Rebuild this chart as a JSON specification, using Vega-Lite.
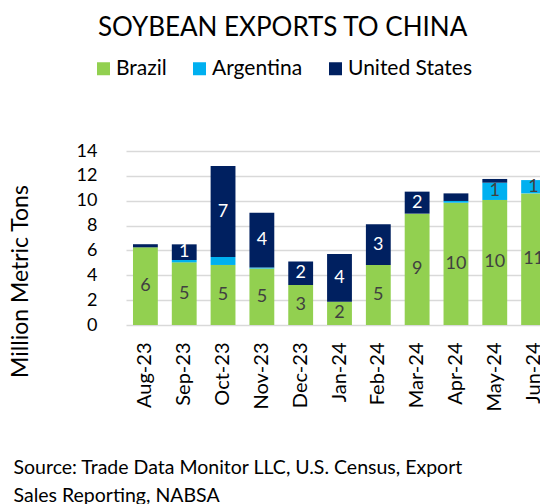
{
  "$schema": "https://vega.github.io/schema/vega-lite/v6.json",
  "width": 414,
  "height": 174,
  "autosize": {"type": "none"},
  "padding": {"left": 126, "top": 151, "right": 0, "bottom": 179},
  "background": "white",
  "config": {
    "font": "Lato",
    "view": {"stroke": null},
    "axisY": {
      "values": [0, 2, 4, 6, 8, 10, 12, 14],
      "labelOverlap": false,
      "labelFontSize": 18,
      "labelColor": "#000000",
      "labelPadding": 29,
      "ticks": false,
      "tickSize": 0,
      "domain": false,
      "grid": true,
      "gridColor": "#d9d9d9",
      "gridWidth": 1.5
    }
  },
  "title": {
    "text": "SOYBEAN EXPORTS TO CHINA",
    "fontSize": 26,
    "fontWeight": "normal",
    "color": "#000000",
    "anchor": "start",
    "frame": "group",
    "dx": -28,
    "offset": 17
  },
  "data": {
    "values": [
      {"month": "Aug-23", "country": "Brazil", "value": 6.25},
      {"month": "Aug-23", "country": "Argentina", "value": 0.0},
      {"month": "Aug-23", "country": "United States", "value": 0.25},
      {"month": "Sep-23", "country": "Brazil", "value": 5.04},
      {"month": "Sep-23", "country": "Argentina", "value": 0.19},
      {"month": "Sep-23", "country": "United States", "value": 1.26},
      {"month": "Oct-23", "country": "Brazil", "value": 4.83},
      {"month": "Oct-23", "country": "Argentina", "value": 0.64},
      {"month": "Oct-23", "country": "United States", "value": 7.32},
      {"month": "Nov-23", "country": "Brazil", "value": 4.55},
      {"month": "Nov-23", "country": "Argentina", "value": 0.08},
      {"month": "Nov-23", "country": "United States", "value": 4.41},
      {"month": "Dec-23", "country": "Brazil", "value": 3.22},
      {"month": "Dec-23", "country": "Argentina", "value": 0.0},
      {"month": "Dec-23", "country": "United States", "value": 1.88},
      {"month": "Jan-24", "country": "Brazil", "value": 1.88},
      {"month": "Jan-24", "country": "Argentina", "value": 0.0},
      {"month": "Jan-24", "country": "United States", "value": 3.83},
      {"month": "Feb-24", "country": "Brazil", "value": 4.83},
      {"month": "Feb-24", "country": "Argentina", "value": 0.0},
      {"month": "Feb-24", "country": "United States", "value": 3.27},
      {"month": "Mar-24", "country": "Brazil", "value": 8.96},
      {"month": "Mar-24", "country": "Argentina", "value": 0.0},
      {"month": "Mar-24", "country": "United States", "value": 1.77},
      {"month": "Apr-24", "country": "Brazil", "value": 9.84},
      {"month": "Apr-24", "country": "Argentina", "value": 0.14},
      {"month": "Apr-24", "country": "United States", "value": 0.61},
      {"month": "May-24", "country": "Brazil", "value": 10.06},
      {"month": "May-24", "country": "Argentina", "value": 1.39},
      {"month": "May-24", "country": "United States", "value": 0.3},
      {"month": "Jun-24", "country": "Brazil", "value": 10.59},
      {"month": "Jun-24", "country": "Argentina", "value": 1.07},
      {"month": "Jun-24", "country": "United States", "value": 0.0}
    ]
  },
  "transform": [
    {"calculate": "indexof(['Brazil','Argentina','United States'], datum.country)", "as": "ord"},
    {"stack": "value", "groupby": ["month"], "sort": [{"field": "ord", "order": "ascending"}], "as": ["v0", "v1"]},
    {"calculate": "(datum.v0 + datum.v1) / 2", "as": "vmid"}
  ],
  "encoding": {
    "x": {
      "field": "month",
      "type": "nominal",
      "sort": null,
      "scale": {"type": "band", "range": [0, 427], "paddingInner": 0.36, "paddingOuter": 0.18},
      "axis": {
        "title": ["Source: Trade Data Monitor LLC, U.S. Census, Export", "Sales Reporting, NABSA"],
        "titleX": -113,
        "titleY": 133,
        "titleAlign": "left",
        "titleAnchor": "start",
        "titleBaseline": "top",
        "titleFontSize": 19.5,
        "titleFontWeight": "normal",
        "titleColor": "#000000",
        "titleLineHeight": 28,
        "labelAngle": -90,
        "labelAlign": "right",
        "labelBaseline": "middle",
        "labelFontSize": 20,
        "labelColor": "#000000",
        "labelPadding": 17,
        "ticks": false,
        "domain": false
      }
    }
  },
  "layer": [
    {
      "mark": {"type": "bar"},
      "encoding": {
        "y": {
          "field": "v1",
          "type": "quantitative",
          "scale": {"domain": [0, 14]},
          "axis": {
            "title": "Million Metric Tons",
            "titleX": -106,
            "titleY": 130,
            "titleAngle": -90,
            "titleAlign": "center",
            "titleBaseline": "middle",
            "titleFontSize": 23,
            "titleFontWeight": "normal",
            "titleColor": "#000000"
          }
        },
        "y2": {"field": "v0"},
        "color": {
          "field": "country",
          "type": "nominal",
          "scale": {
            "domain": ["Brazil", "Argentina", "United States"],
            "range": ["#92d050", "#00b0f0", "#002060"]
          },
          "legend": {
            "orient": "none",
            "legendX": -33,
            "legendY": -93,
            "direction": "horizontal",
            "title": null,
            "symbolType": "square",
            "symbolSize": 169,
            "symbolStrokeWidth": 0,
            "labelFontSize": 21,
            "labelColor": "#000000",
            "labelOffset": 2,
            "columnPadding": 22,
            "padding": 0
          }
        }
      }
    },
    {
      "transform": [{"filter": "datum.value >= 1"}],
      "mark": {"type": "text", "fontSize": 18, "baseline": "middle", "align": "center"},
      "encoding": {
        "y": {
          "field": "vmid",
          "type": "quantitative",
          "axis": {
            "title": "Million Metric Tons",
            "titleX": -106,
            "titleY": 130,
            "titleAngle": -90,
            "titleAlign": "center",
            "titleBaseline": "middle",
            "titleFontSize": 23,
            "titleFontWeight": "normal",
            "titleColor": "#000000"
          }
        },
        "text": {"field": "value", "type": "quantitative", "format": ".0f"},
        "color": {
          "condition": {"test": "datum.country === 'United States'", "value": "#ffffff"},
          "value": "#404040"
        }
      }
    }
  ]
}
